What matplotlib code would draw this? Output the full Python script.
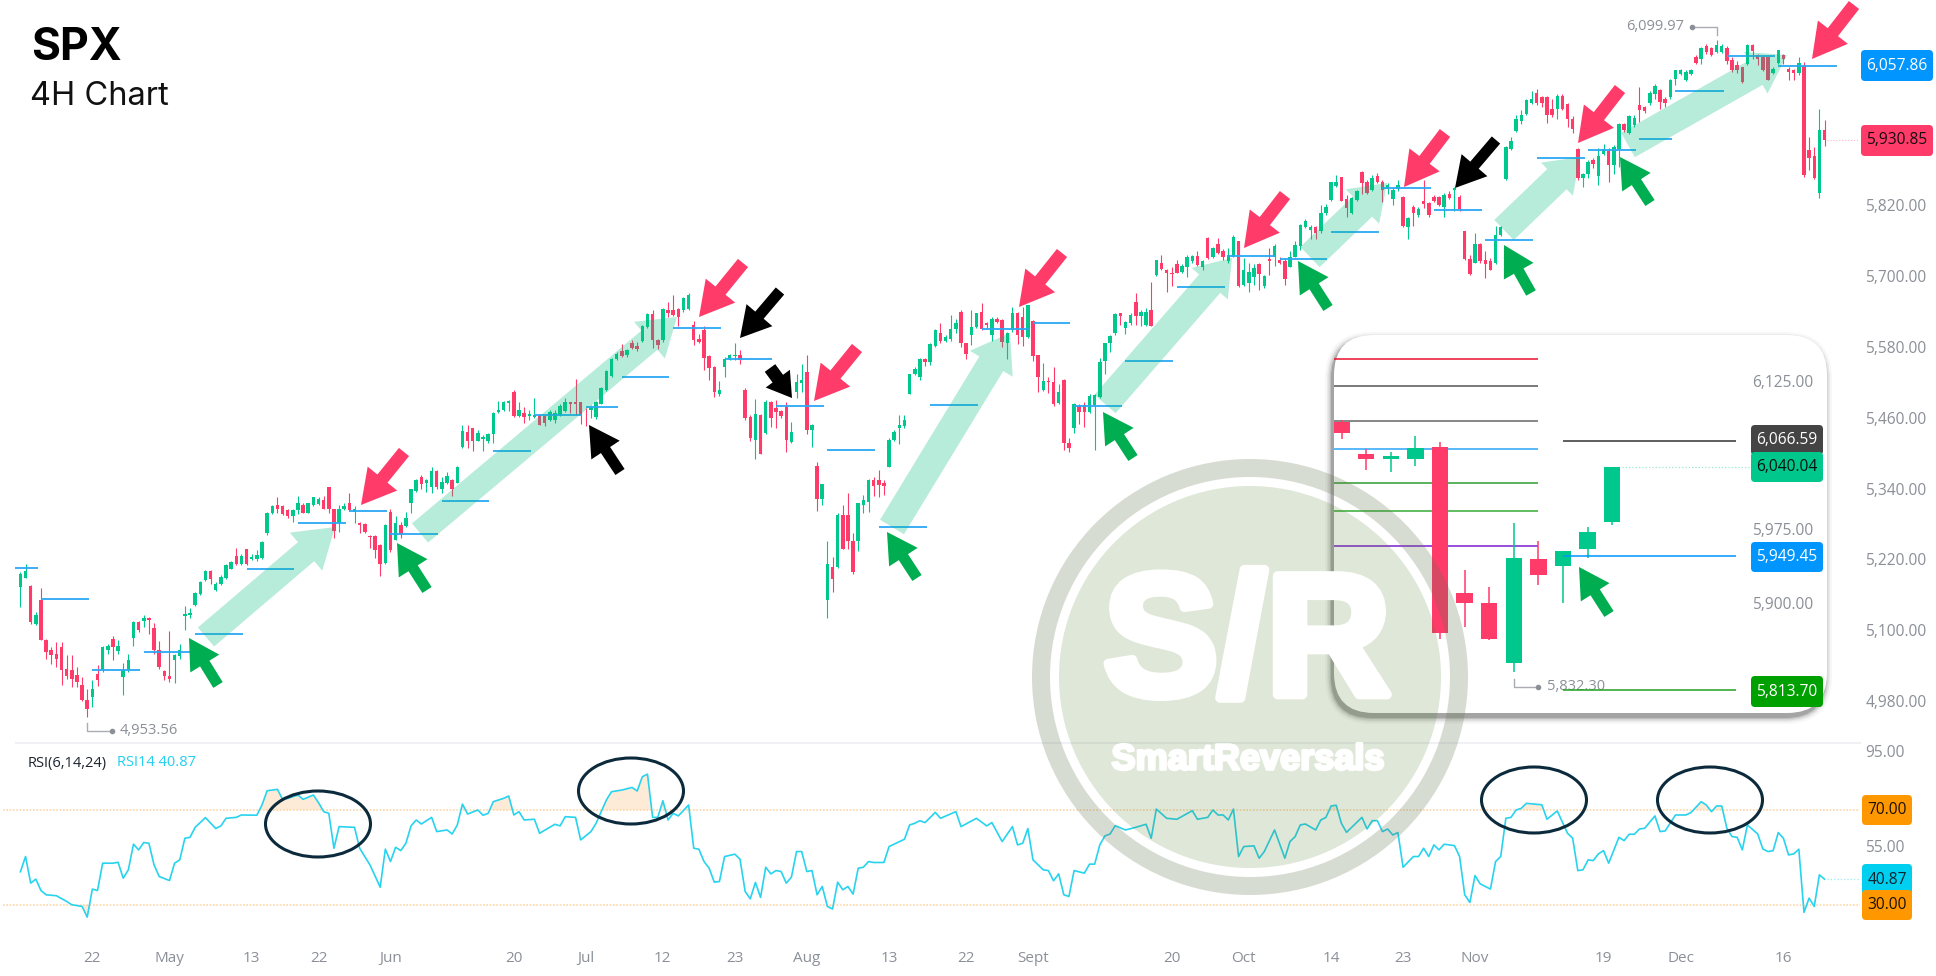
import numpy as np
import matplotlib
matplotlib.use('Agg')
import matplotlib.pyplot as plt
import matplotlib.patheffects as pe
from matplotlib.patches import FancyArrow, FancyBboxPatch, Circle, Wedge, Ellipse

# 4H candles
opens = [5173,5189,5175,5110,5151,5083,5067,5060,5071,5034,
5032,5024,5007,4982,4987,5025,5032,5067,5085,5065,
5021,5032,5086,5114,5116,5120,5104,5066,5031,5022,
5049,5056,5124,5125,5142,5161,5185,5201,5168,5178,
5188,5204,5226,5213,5237,5220,5220,5223,5264,5299,
5312,5311,5304,5293,5304,5312,5299,5312,5314,5320,
5342,5306,5281,5306,5316,5301,5281,5280,5260,5260,
5244,5214,5301,5253,5278,5276,5315,5336,5359,5349,
5343,5370,5340,5349,5355,5350,5410,5436,5442,5421,
5424,5420,5433,5470,5473,5485,5503,5463,5469,5463,
5461,5465,5463,5456,5457,5465,5472,5486,5487,5486,
5474,5473,5461,5484,5507,5531,5559,5574,5566,5586,
5582,5591,5614,5636,5592,5592,5642,5643,5644,5643,
5644,5617,5593,5608,5564,5546,5500,5546,5559,5565,
5566,5507,5461,5422,5464,5434,5487,5477,5472,5478,
5419,5504,5519,5538,5439,5378,5323,5152,5207,5207,
5295,5295,5252,5252,5313,5317,5355,5354,5350,5377,
5422,5442,5446,5501,5534,5530,5559,5555,5582,5604,
5591,5593,5611,5639,5586,5600,5614,5639,5621,5600,
5628,5626,5587,5608,5638,5631,5597,5624,5566,5507,
5522,5521,5485,5524,5417,5442,5480,5481,5470,5481,
5495,5556,5586,5603,5637,5613,5621,5656,5632,5618,
5643,5702,5723,5711,5706,5721,5708,5716,5725,5734,
5716,5764,5732,5755,5742,5725,5733,5759,5685,5688,
5698,5721,5684,5730,5732,5728,5725,5716,5733,5751,
5783,5779,5784,5776,5807,5829,5853,5868,5831,5808,
5829,5876,5860,5846,5870,5860,5847,5831,5847,5835,
5784,5818,5804,5828,5824,5835,5834,5817,5840,5846,
5835,5776,5729,5723,5755,5727,5725,5722,5770,5864,
5916,5946,5963,5975,5993,6010,6003,6003,5984,5984,
6005,5992,5967,5915,5867,5873,5897,5870,5908,5913,
5888,5916,5958,5942,5956,5990,5986,5993,6009,6015,
6001,6003,6035,6042,6033,6042,6071,6069,6090,6086,
6080,6080,6086,6066,6058,6054,6059,6092,6075,6072,
6071,6044,6061,6075,6052,6050,6044,6056,5914,5903,5841,5948]
closes = [5196,5201,5114,5125,5083,5063,5058,5052,5032,5022,
5018,5012,4982,4967,5001,5016,5072,5073,5071,5073,
5032,5049,5114,5100,5121,5117,5066,5038,5022,5018,
5058,5066,5127,5130,5163,5182,5201,5186,5179,5191,
5210,5216,5213,5225,5213,5224,5227,5250,5299,5311,
5306,5297,5294,5304,5316,5299,5315,5325,5323,5306,
5306,5268,5306,5310,5304,5306,5278,5266,5258,5236,
5213,5278,5236,5281,5261,5291,5339,5355,5348,5354,
5370,5343,5352,5361,5340,5377,5438,5421,5420,5434,
5428,5433,5469,5474,5486,5489,5463,5473,5461,5466,
5465,5448,5451,5470,5469,5480,5486,5483,5483,5465,
5473,5479,5487,5510,5540,5559,5569,5565,5575,5579,
5576,5616,5636,5592,5583,5644,5638,5634,5631,5663,
5668,5592,5589,5561,5544,5503,5507,5559,5567,5566,
5558,5459,5425,5467,5399,5487,5459,5470,5463,5422,
5436,5521,5524,5439,5447,5323,5347,5213,5187,5296,
5238,5252,5199,5315,5320,5355,5344,5346,5344,5422,
5436,5447,5456,5534,5543,5560,5555,5585,5608,5591,
5597,5611,5621,5586,5569,5614,5637,5611,5617,5628,
5622,5589,5603,5637,5600,5597,5651,5564,5529,5522,
5520,5484,5504,5417,5408,5483,5470,5470,5497,5498,
5555,5586,5598,5636,5632,5623,5634,5632,5640,5640,
5616,5727,5712,5706,5704,5706,5718,5733,5734,5719,
5725,5731,5747,5739,5732,5736,5767,5684,5710,5708,
5714,5704,5701,5725,5751,5722,5695,5733,5753,5787,
5793,5784,5773,5808,5817,5859,5860,5828,5815,5832,
5844,5858,5841,5866,5860,5846,5855,5846,5855,5785,
5798,5807,5814,5823,5804,5827,5821,5838,5832,5849,
5814,5729,5704,5755,5725,5721,5711,5770,5784,5919,
5929,5967,5973,5998,6000,5993,5993,5973,5973,6005,
5984,5967,5949,5866,5873,5894,5890,5903,5916,5888,
5919,5958,5948,5971,5969,5981,5980,6011,6022,5996,
5994,6032,6049,6050,6046,6050,6062,6086,6080,6075,
6092,6090,6065,6049,6049,6029,6092,6082,6069,6049,
6033,6052,6083,6069,6046,6045,6061,5871,5901,5866,5948,5931]
highs = [5199,5213,5176,5131,5171,5085,5072,5080,5080,5058,
5058,5038,5021,5001,5016,5041,5073,5076,5091,5083,
5044,5059,5116,5116,5125,5123,5112,5081,5033,5099,
5060,5076,5141,5137,5165,5184,5202,5202,5182,5193,
5212,5217,5240,5229,5238,5230,5236,5251,5301,5312,
5326,5312,5306,5306,5327,5315,5316,5326,5325,5327,
5343,5306,5312,5315,5332,5310,5284,5281,5261,5261,
5246,5280,5305,5293,5284,5301,5340,5356,5363,5356,
5377,5372,5360,5368,5356,5378,5448,5448,5443,5439,
5431,5435,5470,5489,5488,5491,5507,5486,5479,5473,
5493,5467,5465,5473,5474,5483,5493,5487,5525,5487,
5476,5482,5489,5512,5541,5561,5572,5585,5576,5592,
5589,5617,5638,5643,5593,5646,5657,5669,5646,5664,
5671,5624,5602,5616,5566,5547,5523,5563,5568,5586,
5575,5510,5465,5492,5467,5490,5489,5490,5474,5487,
5453,5535,5552,5566,5450,5385,5348,5252,5224,5298,
5313,5332,5264,5316,5329,5357,5360,5372,5354,5425,
5439,5464,5464,5535,5546,5562,5562,5586,5610,5621,
5600,5634,5628,5643,5587,5642,5638,5654,5622,5631,
5631,5628,5606,5648,5639,5648,5652,5625,5567,5553,
5529,5546,5518,5525,5426,5485,5483,5487,5500,5500,
5562,5587,5601,5637,5638,5624,5637,5672,5643,5646,
5691,5728,5736,5712,5715,5728,5721,5736,5736,5742,
5728,5767,5750,5764,5746,5747,5770,5760,5731,5722,
5721,5722,5702,5747,5755,5732,5731,5742,5759,5789,
5797,5787,5785,5821,5823,5860,5872,5869,5838,5835,
5846,5879,5863,5872,5875,5863,5858,5849,5863,5836,
5801,5821,5817,5863,5825,5838,5836,5841,5845,5852,
5838,5777,5736,5773,5756,5742,5731,5785,5785,5920,
5936,5973,5981,6001,6014,6018,6005,6005,6000,6009,
6009,5993,5971,5917,5875,5897,5901,5917,5924,5917,
5922,5959,5960,5973,5973,6021,5988,6014,6025,6018,
6004,6035,6050,6052,6049,6052,6075,6089,6093,6089,
6100,6093,6090,6072,6065,6055,6093,6093,6077,6075,
6073,6055,6084,6077,6055,6052,6071,6063,5936,5919,5983,5965]
lows = [5140,5188,5111,5108,5083,5052,5042,5038,5007,5018,
5004,5004,4980,4953.56,4970,5005,5029,5060,5049,5060,
4991,5029,5073,5097,5106,5094,5060,5035,5015,5012,
5011,5052,5101,5121,5141,5159,5184,5179,5166,5176,
5186,5203,5210,5211,5211,5219,5217,5221,5262,5297,
5299,5295,5291,5284,5297,5298,5298,5310,5312,5306,
5299,5257,5267,5304,5302,5282,5264,5264,5240,5222,
5192,5212,5233,5253,5256,5275,5298,5335,5340,5335,
5332,5340,5332,5348,5327,5349,5408,5408,5404,5420,
5404,5418,5417,5469,5472,5472,5462,5462,5452,5457,
5459,5447,5446,5455,5452,5463,5470,5468,5465,5450,
5446,5459,5458,5483,5506,5530,5558,5563,5563,5576,
5574,5589,5612,5578,5576,5589,5631,5633,5615,5640,
5643,5583,5586,5541,5524,5496,5497,5529,5558,5558,
5551,5456,5420,5391,5398,5432,5445,5443,5460,5402,
5417,5494,5504,5433,5411,5302,5312,5120,5165,5206,
5237,5238,5196,5235,5298,5300,5327,5326,5329,5376,
5421,5415,5443,5500,5532,5524,5547,5549,5580,5586,
5589,5590,5604,5580,5560,5583,5613,5608,5613,5591,
5621,5580,5560,5606,5585,5581,5596,5556,5504,5506,
5502,5480,5484,5405,5402,5434,5450,5445,5468,5406,
5494,5535,5572,5600,5617,5602,5617,5617,5615,5615,
5615,5701,5711,5674,5684,5705,5705,5699,5723,5717,
5711,5729,5731,5738,5728,5723,5732,5682,5684,5674,
5685,5677,5680,5702,5717,5721,5685,5715,5732,5745,
5781,5763,5763,5774,5804,5828,5852,5827,5801,5806,
5828,5840,5840,5844,5858,5825,5840,5821,5845,5783,
5763,5785,5800,5815,5800,5825,5819,5801,5831,5811,
5811,5728,5702,5722,5723,5697,5710,5721,5768,5863,
5914,5945,5958,5973,5992,5991,5986,5959,5970,5966,
5981,5953,5942,5863,5851,5866,5883,5854,5905,5860,
5874,5885,5945,5941,5953,5962,5976,5990,6001,5984,
5986,6001,6024,6041,6031,6041,6059,6060,6077,6073,
6079,6079,6060,6046,6045,6028,6058,6069,6058,6048,
6033,6042,6059,6060,6033,6033,6041,5868,5880,5864,5832,5920]

# blue weekly levels: first candle, last candle, price
lvl_start = [-1,4,14,24,34,44,54,64,72,82,92,100,110,117,127,137,147,157,167,177,187,197,205,215,225,235,245,255,265,275,285,295,305,315,322,332,342]
lvl_end = [3.4,13.3,23.3,33.2,43.3,53.2,63.3,71.3,81.2,91.2,99.3,109.3,116.3,126.2,136.3,146.2,156.3,166.3,176.4,186.3,196.2,204.2,214.3,224.2,234.4,244.1,254.2,264.3,274.4,284.3,294.3,304.4,314.3,321.3,331.4,341.4,353.4]
lvl_price = [5206,5153,5032,5063,5094,5203,5281,5302,5263,5319,5403,5465,5478,5529,5612,5559,5480,5406,5275,5481,5610,5621,5480,5557,5681,5735,5730,5775,5850,5813,5762,5901,5914,5932,6014,6074,6057]

price_ticks = [5820,5700,5580,5460,5340,5220,5100,4980]

# RSI line vertices
rsi_x = [0,1,2,3,4,5,7,9,10,12,13,14,15,16,18,19,20,21,22,23,24,25,26,27,29,30,31,32,33,34,36,38,39,40,42,43,46,47,48,50,51,52,54,55,57,58,59,60,61,62,65,66,68,70,71,72,73,74,75,76,77,78,80,81,83,84,85,86,87,89,90,91,92,94,95,96,97,98,100,101,104,105,106,108,109,111,112,114,115,117,119,120,121,122,123,124,125,126,127,128,130,131,132,133,134,135,136,137,139,140,141,142,143,144,145,146,147,148,149,150,151,152,153,154,155,156,157,158,159,160,161,162,163,164,165,166,168,169,172,173,174,175,176,178,179,182,183,
186,188,189,191,193,194,195,196,197,199,200,201,202,203,204,205,207,208,209,210,211,212,213,215,217,219,220,221,223,225,228,229,231,232,233,234,235,236,237,238,240,241,242,244,246,247,248,249,250,252,253,254,255,256,257,258,261,262,263,264,265,266,267,268,269,271,272,273,274,275,276,277,279,280,281,282,283,284,286,287,288,289,290,291,292,293,296,297,299,301,302,303,304,305,306,307,308,309,311,312,313,314,315,316,318,319,320,322,324,325,327,328,329,330,331,332,333,334,335,336,338,339,340,341,342,343,344,345,346,347,348,349,350,351]
rsi_v = [44,50.4,39.2,40.9,36.1,34.3,33.9,31.5,30.1,29.4,24.9,36.7,36.1,47.6,47.6,48,41.3,44.8,55.6,53.2,56.3,56,46.9,42,40.3,47.6,49,58.1,58.5,62.7,66.8,62.2,63.3,66.5,66.9,67.9,67.8,72.1,78.1,78.7,74.5,74.9,76.3,74.5,76.3,73.1,69.3,68.6,53.9,63,62.7,53.9,46.9,37.5,53.5,48.3,54.3,52.9,56,63.3,65.8,64.1,66.9,60.9,61.6,59.9,63.7,72.5,68.3,70,67.8,68.6,73.5,74.9,75.9,67.9,69.3,65.8,66.1,60.2,64,63.3,67.2,66.9,57.4,60.9,64.4,74.2,77.7,78.4,79.5,78,84,85.1,66.9,66.9,73.9,65.8,68.6,67.5,72.1,53.9,53.5,48.3,45.5,39.6,39.9,50.4,51.4,49.3,35.7,32.6,39.5,33.2,45.9,43.1,44.5,44.1,39.2,41.7,52.5,52.5,44.1,44.5,34.3,37.8,29.4,28.3,39.6,36.4,37.8,34.6,45.5,45.9,48.3,47.9,47.9,54.6,57.7,63.7,64.4,65.5,64.7,69,66.5,69.3,63,
66.5,63.3,64.7,56.7,63,55.3,56,62.2,49,44.8,44.5,40.2,43.1,34.3,33.6,44.5,43.4,47.2,47.2,55.3,59.1,59.9,63.4,61.6,62.7,64,58.1,70.4,66.5,66.1,69.7,66.1,66.9,70,67.9,67.9,65.8,70.4,50.4,54.6,54.9,49.7,52.5,61.6,49.7,56.7,58.8,63.7,64.1,61.6,65.8,66.9,71.7,72,64.4,60.6,66.9,62,65.5,65.5,60.9,62,59.5,60.5,45.9,50.4,50.4,53.9,50.4,55.3,53.2,55.6,55,50.4,34.3,31.1,42.4,38.9,36.7,48.3,50.4,66.5,66.9,70,70.7,72.8,72.2,66.1,69.6,60.2,58.1,44.5,44.8,49,48.7,51.5,52.9,47.6,58.5,57.1,59.8,59.8,62,62.3,67.5,60.9,61.2,67.9,67.9,68.9,73.5,72.1,69.3,71.7,71.7,62.3,58.8,58.5,53.2,63.7,59.9,53.6,52.5,52.9,60.5,58.1,51.1,51.5,53.5,26.9,32.9,29.4,42.7,40.87]

date_ticks = [14,29,45,58,72,96,110,125,139,153,169,184,197,224,238,255,269,283,308,323,343]
date_labels = ['22','May','13','22','Jun','20','Jul','12','23','Aug','13','22','Sept','20','Oct','14','23','Nov','19','Dec','16']

# inset, last twelve candles zoomed in
in_open = [6085,6053,6048,6048,6060,5912.5,5902.4,5841,5947,5940,5957,5984.5]
in_close = [6074,6048,6051.4,6059.5,5871.3,5901.7,5866,5947.3,5930.4,5954.8,5974.3,6040.04]
in_high = [6088,6058,6055,6071.6,6065,5935.5,5918.6,5982.8,5965,5954.8,5978.7,6040.04]
in_low = [6068,6037,6035,6041,5866,5878,5864.5,5832.3,5920,5901.7,5947.3,5981]
in_left_levels = [6149.7,6122,6086.8,6058.5,6023.3,5995.3,5960.2]
in_left_colors = ['#E8112D','#555555','#666666','#2AA5F5','#2E9E2E','#35AC35','#7B1FD1']

GREEN = '#00C78B'
RED = '#FF3B69'
BLUE = '#0095FF'
ORANGE = '#FF9800'
GRAY = '#8B8F97'
MINT = (0, 187/255, 123/255, 0.28)
W, H = 1936, 976
LABEL_FONT = ['Open Sans', 'DejaVu Sans']


def candles(ax, o, h, l, c, width=0.68, lw=0.8):
    o, h, l, c = map(np.array, (o, h, l, c))
    x = np.arange(len(o))
    cols = np.where(c >= o, GREEN, RED)
    ax.vlines(x, l, h, colors=cols, lw=lw, zorder=2)
    ax.bar(x, np.abs(c - o), bottom=np.minimum(o, c), width=width, color=cols, lw=0, zorder=3)


def arrow(ax, x0, y0, x1, y1, color, w=13, hw=38, hl=34):
    ax.add_patch(FancyArrow(x0, y0, x1 - x0, y1 - y0, width=w, head_width=hw, head_length=hl,
                            length_includes_head=True, facecolor=color, edgecolor='none', lw=0))


def badge(ax, x0, x1, y0, y1, txt, bg, fg, size=11.2):
    ax.add_patch(FancyBboxPatch((x0, y0), x1 - x0, y1 - y0, boxstyle='round,pad=0,rounding_size=4',
                                facecolor=bg, edgecolor='none'))
    ax.text((x0 + x1) / 2, (y0 + y1) / 2, txt, color=fg, ha='center', va='center',
            fontsize=size, family=LABEL_FONT)


fig = plt.figure(figsize=(W / 100, H / 100), dpi=100, facecolor='white')
plot_r = 1860
xlim = (-3.97, 357.9)

# price panel
ax = fig.add_axes([0, (H - 742) / H, plot_r / W, 742 / H], zorder=1)
ax.set_xlim(*xlim)
ax.set_ylim(4980 - 41 * 1.695, 4980 + 701 * 1.695)
candles(ax, opens, highs, lows, closes)
ax.hlines(lvl_price, lvl_start, lvl_end, colors='#2BA8F5', lw=1.3, zorder=4)
ax.set_xticks([])
ax.yaxis.tick_right()
ax.set_yticks(price_ticks)
ax.set_yticklabels([f'{v:,.2f}' for v in price_ticks], color=GRAY, fontsize=11.2, family=LABEL_FONT)
ax.tick_params(axis='y', length=0, pad=4)
for s in ax.spines.values():
    s.set_visible(False)
ax.patch.set_alpha(0)
ax.hlines(5930.85, 351.5, xlim[1], colors='#FFB3C4', lw=0.8, linestyles=':', zorder=2)

# RSI panel
ax2 = fig.add_axes([0, (H - 945) / H, plot_r / W, (945 - 742) / H], zorder=1)
ax2.set_xlim(*xlim)
ax2.set_ylim(70 - 135 / 2.375, 70 + 68 / 2.375)
ax2.plot(rsi_x, rsi_v, color='#27D3EE', lw=1.2, zorder=3)
rx = np.array(rsi_x, dtype=float)
rv = np.array(rsi_v)
ax2.fill_between(rx, 70, rv, where=rv > 70, interpolate=True, color='#FDEBD8', lw=0, zorder=1)
ax2.fill_between(rx, 30, rv, where=rv < 30, interpolate=True, color='#FDEBD8', lw=0, zorder=1)
ax2.hlines([70, 30], xlim[0] + 0.5, xlim[1], colors='#FFD5A5', lw=1.2, linestyles=(0, (1, 1)), zorder=2)
ax2.hlines(40.87, 351.5, xlim[1], colors='#9BE8F5', lw=0.9, linestyles=':', zorder=2)
ax2.yaxis.tick_right()
ax2.set_yticks([95, 55])
ax2.set_yticklabels(['95.00', '55.00'], color=GRAY, fontsize=11.2, family=LABEL_FONT)
ax2.set_xticks(date_ticks)
ax2.set_xticklabels(date_labels, color=GRAY, fontsize=11, family=LABEL_FONT)
ax2.tick_params(axis='both', length=0, pad=4)
for s in ax2.spines.values():
    s.set_visible(False)
ax2.patch.set_alpha(0)

# pixel space overlay for the hand drawn marks
ov = fig.add_axes([0, 0, 1, 1], zorder=2)
ov.set_xlim(0, W)
ov.set_ylim(H, 0)
ov.axis('off')
ov.plot([16, 1860], [743, 743], color='#F0F1F5', lw=1.5)

ov.text(31, 60, 'SPX', fontsize=32, fontweight='bold', family=['Inter', 'Liberation Sans'], color='black')
ov.text(30, 105, '4H Chart', fontsize=23.5, family=['Inter', 'Liberation Sans'], color='#111111')
ov.text(28, 763, 'RSI(6,14,24)', fontsize=10.5, family=LABEL_FONT, color='#1C2530', va='center')
ov.text(117, 763, 'RSI14 40.87', fontsize=10.5, family=LABEL_FONT, color='#22CFEF', va='center')

# leaders for the extremes
ov.plot([87, 87, 112], [723, 731, 731], color='#A9ACB3', lw=1)
ov.plot([112], [731], 'o', color='#8B8F97', ms=3)
ov.text(120, 730, '4,953.56', color=GRAY, fontsize=10.5, va='center', family=LABEL_FONT)
ov.plot([1692, 1717, 1717], [27, 27, 35], color='#A9ACB3', lw=1)
ov.plot([1692], [27], 'o', color='#8B8F97', ms=3)
ov.text(1684, 27, '6,099.97', color=GRAY, fontsize=10.5, va='center', ha='right', family=LABEL_FONT)

# mint trend arrows
for a in [(206, 637, 335, 527, 25, 50, 38), (420, 533, 677, 317, 25, 48, 36), (892, 527, 1010, 333, 28, 50, 36),
          (1105, 404, 1232, 258, 28, 48, 34), (1310, 257, 1387, 183, 28, 48, 34), (1504, 230, 1580, 157, 28, 46, 32),
          (1628, 145, 1787, 55, 28, 48, 36)]:
    arrow(ov, a[0], a[1], a[2], a[3], MINT, a[4], a[5], a[6])

for a in [(404, 452, 361, 505), (743, 263, 699, 317), (857, 348, 814, 401), (1062, 253, 1019, 307),
          (1285, 195, 1244, 248), (1445, 133, 1404, 187), (1620, 89, 1578, 143), (1854, 5, 1812, 59)]:
    arrow(ov, a[0], a[1], a[2], a[3], RED)
for a in [(620, 472, 589, 425), (780, 291, 740, 338), (1496, 140, 1455, 188)]:
    arrow(ov, a[0], a[1], a[2], a[3], 'black', 11, 34, 30)
arrow(ov, 770, 368, 792, 398, 'black', 13, 30, 24)
for a in [(218, 685, 189, 638), (427, 590, 397, 543), (917, 578, 887, 532), (1133, 458, 1103, 412),
          (1328, 308, 1298, 261), (1650, 203, 1620, 157), (1531, 293, 1504, 245)]:
    arrow(ov, a[0], a[1], a[2], a[3], '#00AD50', 11, 34, 30)

# RSI circles
for cx, cy in [(318, 824), (631, 791), (1534, 800), (1710, 800)]:
    ov.add_patch(Ellipse((cx, cy), 105, 66, fill=False, edgecolor='#0B2A3C', lw=2.2))

# right hand badges
badge(ov, 1861, 1933, 50, 81, '6,057.86', BLUE, 'white')
badge(ov, 1861, 1933, 125, 156, '5,930.85', RED, '#1A0A10')
badge(ov, 1862, 1912, 864, 895, '40.87', '#00CFF0', '#0A2530')
badge(ov, 1862, 1912, 795, 825, '70.00', ORANGE, '#1A1000')
badge(ov, 1862, 1912, 890, 920, '30.00', ORANGE, '#1A1000')

# inset card, shadow falls to the lower left
box = fig.add_axes([0, 0, 1, 1], zorder=3)
box.set_xlim(0, W)
box.set_ylim(H, 0)
box.axis('off')
bx0, bx1, by0, by1 = 1334, 1827, 335, 713
for pad, a in [(7, 0.03), (5, 0.05), (3.5, 0.08), (2, 0.11), (1, 0.14)]:
    box.add_patch(FancyBboxPatch((bx0 - pad - 2, by0 - pad + 4), bx1 - bx0 + 2 * pad, by1 - by0 + 2 * pad,
                                 boxstyle=f'round,pad=0,rounding_size={40 + pad}', facecolor='black', alpha=a, edgecolor='none'))
box.add_patch(FancyBboxPatch((bx0, by0), bx1 - bx0, by1 - by0, boxstyle='round,pad=0,rounding_size=40',
                             facecolor='white', edgecolor='none'))

ins = fig.add_axes([bx0 / W, (H - by1) / H, (bx1 - bx0) / W, (by1 - by0) / H], zorder=3.1)
ins.set_xlim(-0.31, 19.73)
ins.set_ylim(6125 - (by1 - 383) * 1.0135, 6125 + (383 - by0) * 1.0135)
ins.axis('off')
ins.hlines(in_left_levels, -0.31, 8, colors=in_left_colors, lw=1.1, zorder=1)
candles(ins, in_open, in_high, in_low, in_close, width=0.67, lw=1.1)
ins.hlines([6066.59, 5949.45, 5813.7], 9, 16.05, colors=['#333333', BLUE, '#22A022'], lw=1.1, zorder=4)
ins.hlines(6040.04, 11.4, 16.6, colors='#9BE8CF', lw=0.9, linestyles=':', zorder=1)
ins.plot([7, 7, 8], [5825, 5817, 5817], color='#A9ACB3', lw=1)
ins.plot([8], [5817], 'o', color='#8B8F97', ms=3)
ins.text(8.35, 5817, '5,832.30', color=GRAY, fontsize=10.5, va='center', family=LABEL_FONT)
for v in [6125, 5975, 5900]:
    ins.text(17.93, v, f'{v:,.2f}', color=GRAY, fontsize=11.2, ha='center', va='center', family=LABEL_FONT)

# badges and arrow on top of the inset, watermark last
top = fig.add_axes([0, 0, 1, 1], zorder=4)
top.set_xlim(0, W)
top.set_ylim(H, 0)
top.axis('off')
badge(top, 1751, 1823, 425, 455, '6,066.59', '#444444', 'white')
badge(top, 1751, 1823, 452, 482, '6,040.04', '#00C78B', '#04140E')
badge(top, 1751, 1823, 542, 572, '5,949.45', BLUE, 'white')
badge(top, 1751, 1823, 676, 707, '5,813.70', '#00A000', 'white')
arrow(top, 1609, 614, 1579, 567, '#00AD50', 11, 34, 30)

wx, wy = 1250, 677
top.add_patch(Wedge((wx, wy), 218, 0, 360, width=18, facecolor=(99 / 255, 116 / 255, 79 / 255, 0.25), edgecolor='none'))
top.add_patch(Circle((wx, wy), 191, facecolor=(78 / 255, 122 / 255, 44 / 255, 0.18), edgecolor='none'))
heavy = ['Liberation Sans']
top.text(wx - 3, 650, 'S/R', color='white', fontsize=124, fontweight='bold', family=heavy, ha='center', va='center',
         path_effects=[pe.withStroke(linewidth=7, foreground='white')])
top.text(wx - 2, 760, 'SmartReversals', color='white', fontsize=26, fontweight='bold', family=heavy, ha='center', va='center',
         path_effects=[pe.withStroke(linewidth=2, foreground='white')])

fig.savefig('out.png', dpi=100, facecolor='white')
